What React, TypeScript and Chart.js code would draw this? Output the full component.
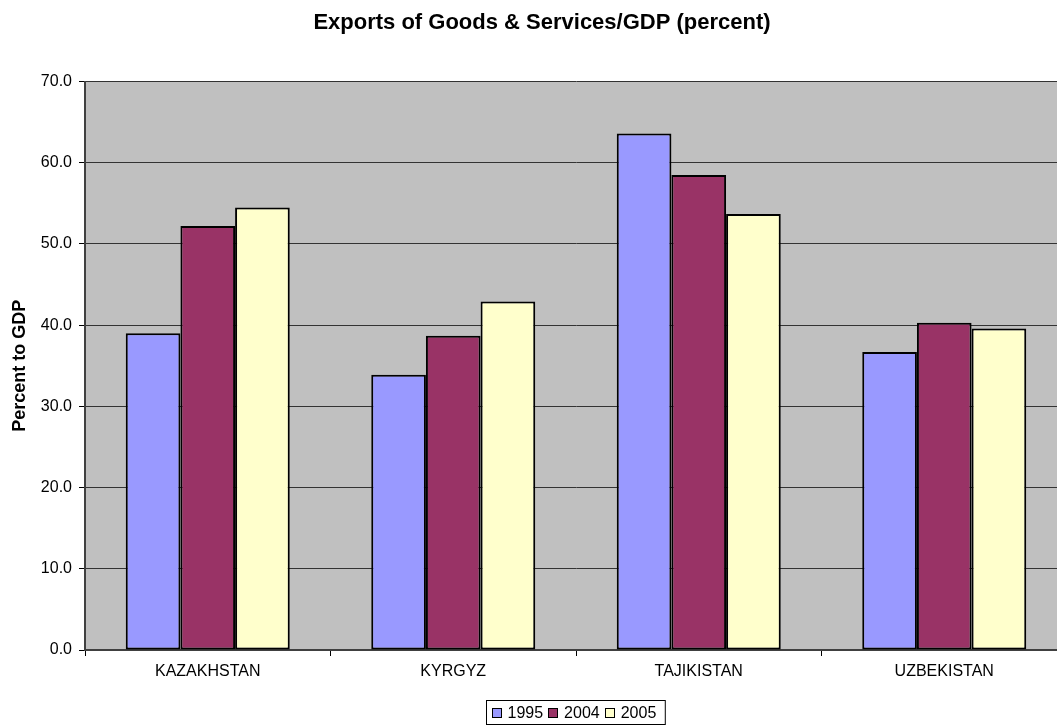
import React, { useEffect, useRef } from "react";
import { Chart, registerables } from "chart.js";

Chart.register(...registerables);

const categories = ["KAZAKHSTAN", "KYRGYZ", "TAJIKISTAN", "UZBEKISTAN"];
const seriesLabels = ["1995", "2004", "2005"];
const values1995 = [39.0, 33.9, 63.6, 36.7];
const values2004 = [52.2, 38.7, 58.5, 40.3];
const values2005 = [54.5, 42.9, 53.7, 39.6];
const seriesColors = ["#9999FF", "#993366", "#FFFFCC"];
const titleText = "Exports of Goods & Services/GDP (percent)";
const yAxisTitle = "Percent to GDP";

const FONT = "'Liberation Sans', Arial, Helvetica, sans-serif";
const CANVAS_W = 1068;
const CANVAS_H = 726;

const bgPlugin = {
  id: "plotBg",
  beforeDraw(chart: any) {
    const { ctx, chartArea } = chart;
    ctx.save();
    ctx.fillStyle = "#C0C0C0";
    ctx.fillRect(chartArea.left, chartArea.top, chartArea.right - chartArea.left, chartArea.bottom - chartArea.top);
    ctx.restore();
  },
};

const titleLegendPlugin = {
  id: "titleLegend",
  afterDraw(chart: any) {
    const { ctx, chartArea } = chart;
    const cx = (chartArea.left + chartArea.right) / 2;
    ctx.save();
    // title
    ctx.fillStyle = "#000";
    ctx.font = `bold 22px ${FONT}`;
    ctx.textAlign = "center";
    ctx.textBaseline = "middle";
    ctx.fillText(titleText, cx - 34, 23);

    // legend
    ctx.font = `16px ${FONT}`;
    const sw = 9;
    const gap = 7;
    const itemGap = 5;
    const padL = 5;
    const padR = 9;
    const widths = seriesLabels.map((l) => ctx.measureText(l).width);
    let total = padL + padR;
    widths.forEach((w, i) => {
      total += sw + gap + w + (i < widths.length - 1 ? itemGap : 0);
    });
    const left = Math.round(cx - 1 - total / 2) + 0.5;
    const top = 700.5;
    const h = 24;
    ctx.fillStyle = "#fff";
    ctx.fillRect(left, top, total, h);
    ctx.strokeStyle = "#000";
    ctx.lineWidth = 1;
    ctx.strokeRect(left, top, total, h);
    let x = left + padL;
    const midY = top + h / 2;
    seriesLabels.forEach((l, i) => {
      const sx = Math.round(x) + 0.5;
      const sy = Math.round(midY - sw / 2) + 0.5;
      ctx.fillStyle = seriesColors[i];
      ctx.fillRect(sx, sy, sw, sw);
      ctx.strokeStyle = "#000";
      ctx.strokeRect(sx, sy, sw, sw);
      x += sw + gap;
      ctx.fillStyle = "#000";
      ctx.textAlign = "left";
      ctx.textBaseline = "middle";
      ctx.fillText(l, x, midY + 1);
      x += widths[i] + itemGap;
    });
    ctx.restore();
  },
};

export default function App() {
  const ref = useRef<HTMLCanvasElement | null>(null);

  useEffect(() => {
    document.body.style.margin = "0";
    document.body.style.overflow = "hidden";
    document.documentElement.style.overflow = "hidden";
    const canvas = ref.current;
    if (!canvas) return;
    const data = [values1995, values2004, values2005];
    const chart = new Chart(canvas, {
      type: "bar",
      data: {
        labels: categories,
        datasets: seriesLabels.map((l, i) => ({
          label: l,
          data: data[i],
          backgroundColor: seriesColors[i],
          borderColor: "#000",
          borderWidth: 2,
          borderSkipped: false,
          categoryPercentage: 0.668,
          barPercentage: 1,
        })),
      },
      options: {
        animation: false,
        responsive: false,
        devicePixelRatio: 1,
        layout: { padding: { top: 81.5, right: 1, left: 0, bottom: 0 } },
        plugins: {
          legend: { display: false },
          title: { display: false },
          tooltip: { enabled: false },
        },
        scales: {
          x: {
            type: "category",
            offset: true,
            grid: {
              offset: true,
              drawOnChartArea: false,
              drawTicks: true,
              tickLength: 6,
              tickColor: "#000",
            },
            border: { display: true, color: "#404040", width: 2 },
            ticks: {
              color: "#000",
              font: { family: FONT, size: 16 },
              padding: 6,
              maxRotation: 0,
              autoSkip: false,
            },
            afterFit(scale: any) {
              scale.height = 76;
            },
          },
          y: {
            min: 0,
            max: 70,
            ticks: {
              stepSize: 10,
              color: "#000",
              font: { family: FONT, size: 16 },
              padding: 7,
              callback: (v: any) => Number(v).toFixed(1),
            },
            grid: {
              color: "#333",
              lineWidth: 1,
              drawTicks: true,
              tickLength: 6,
              tickColor: "#000",
            },
            border: { display: true, color: "#404040", width: 2 },
            title: {
              display: true,
              text: yAxisTitle,
              color: "#000",
              font: { family: FONT, size: 18, weight: "bold" },
              padding: { top: 9, bottom: 0 },
            },
            afterFit(scale: any) {
              scale.width = 85;
            },
          },
        },
      },
      plugins: [bgPlugin, titleLegendPlugin],
    });
    return () => chart.destroy();
  }, []);

  return (
    <div style={{ width: CANVAS_W, height: CANVAS_H }}>
      <canvas ref={ref} width={CANVAS_W} height={CANVAS_H} style={{ display: "block" }} />
    </div>
  );
}
